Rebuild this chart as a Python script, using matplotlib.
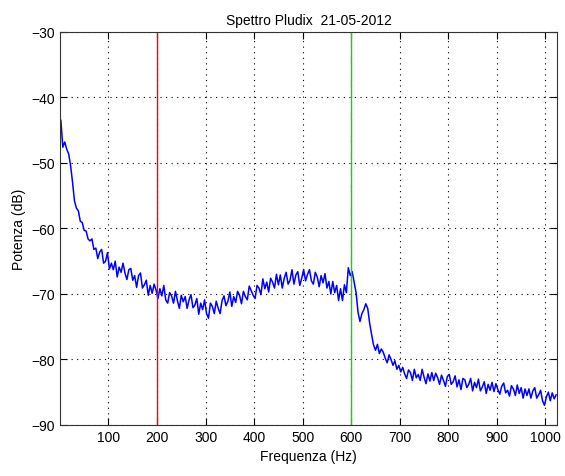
import numpy as np
import matplotlib
matplotlib.use("Agg")
import matplotlib.pyplot as plt

# spettro, un punto ogni 4 Hz a partire da 2 Hz
passo_hz = 4
primo_hz = 2
potenza = [
    -43.5, -47.6, -46.8, -47.9, -48.6, -50.4, -52.9, -55.8, -56.9, -57.3, -58.9, -59.1, -60.3, -60.4, -61.6, -61.9,
    -61.6, -63.2, -63.0, -64.6, -63.6, -63.2, -65.3, -65.0, -63.7, -66.2, -65.3, -66.3, -65.0, -67.4, -65.9, -66.7,
    -65.3, -66.8, -67.8, -66.3, -66.1, -67.9, -67.2, -69.0, -67.2, -66.8, -69.1, -68.6, -67.9, -70.2, -68.7, -69.9,
    -68.5, -69.4, -70.7, -69.2, -70.3, -68.7, -70.9, -71.4, -69.8, -70.3, -71.4, -69.6, -71.0, -72.2, -70.2, -71.2,
    -70.4, -72.2, -70.9, -70.1, -72.1, -71.7, -70.7, -73.1, -71.4, -72.4, -70.9, -73.0, -73.7, -71.4, -71.9, -73.0,
    -71.1, -72.2, -73.0, -71.0, -70.3, -71.8, -71.1, -69.7, -71.9, -70.4, -71.3, -69.6, -70.2, -71.5, -69.6, -70.4,
    -70.9, -68.8, -69.5, -70.2, -70.7, -68.7, -69.1, -70.1, -67.7, -69.2, -68.2, -69.7, -67.6, -68.2, -69.1, -67.0,
    -68.6, -67.1, -69.1, -67.6, -66.7, -68.5, -67.9, -66.3, -68.5, -67.1, -66.6, -68.7, -67.6, -66.3, -68.0, -67.0,
    -66.3, -68.0, -68.5, -66.7, -67.4, -68.9, -67.2, -68.3, -66.9, -69.1, -68.1, -70.0, -68.1, -69.8, -68.7, -71.0,
    -69.2, -71.0, -68.6, -69.8, -66.0, -67.2, -66.6, -68.2, -69.8, -72.8, -74.2, -73.0, -72.4, -71.5, -72.2, -74.5,
    -76.2, -77.8, -78.6, -77.7, -79.1, -78.4, -78.9, -79.8, -80.5, -79.3, -80.0, -80.9, -80.2, -81.5, -80.9, -81.9,
    -81.2, -82.2, -82.9, -81.6, -82.0, -83.2, -81.5, -82.8, -82.3, -83.2, -81.5, -82.7, -83.7, -82.2, -83.3, -82.0,
    -83.2, -82.1, -82.8, -83.8, -82.4, -83.2, -84.1, -82.6, -82.3, -83.8, -83.4, -82.5, -84.2, -83.1, -84.6, -82.9,
    -83.1, -84.3, -83.8, -82.9, -84.8, -83.5, -84.3, -83.0, -84.8, -84.2, -83.4, -85.2, -83.8, -84.7, -83.5, -84.9,
    -83.7, -84.6, -85.3, -84.1, -83.6, -85.1, -84.7, -85.6, -84.0, -84.5, -85.5, -83.9, -85.2, -84.3, -85.9, -84.5,
    -85.5, -84.5, -85.9, -84.8, -84.3, -85.9, -85.4, -84.7, -86.3, -87.0, -85.7, -85.0, -86.3, -85.1, -86.0, -85.4,
]
frequenza = primo_hz + passo_hz * np.arange(len(potenza))

marcatore_rosso = 200
marcatore_verde = 600
x_ticks = [100, 200, 300, 400, 500, 600, 700, 800, 900, 1000]
y_ticks = [-90, -80, -70, -60, -50, -40, -30]

plt.rcParams["font.family"] = ["Liberation Sans", "DejaVu Sans"]
plt.rcParams["font.size"] = 10

fig = plt.figure(figsize=(5.65, 4.77), dpi=100)
ax = fig.add_axes([0.106, 0.107, 0.88, 0.824])

ax.plot(frequenza, potenza, color="#0000ff", linewidth=1.1)
ax.axvline(marcatore_rosso, color="#ff0000", linewidth=1.0)
ax.axvline(marcatore_verde, color="#00e000", linewidth=1.0)

ax.set_xlim(0, 1024)
ax.set_ylim(-90, -30)
ax.set_xticks(x_ticks)
ax.set_yticks(y_ticks)
ax.grid(True, linestyle=(0, (1, 4)), color="black", linewidth=0.8)
ax.tick_params(direction="in", length=5, top=True, right=True, colors="black")
for s in ax.spines.values():
    s.set_color("#333333")

ax.set_title("Spettro Pludix  21-05-2012", fontsize=10)
ax.set_xlabel("Frequenza (Hz)")
ax.set_ylabel("Potenza (dB)")

fig.savefig("out.png", dpi=100)
